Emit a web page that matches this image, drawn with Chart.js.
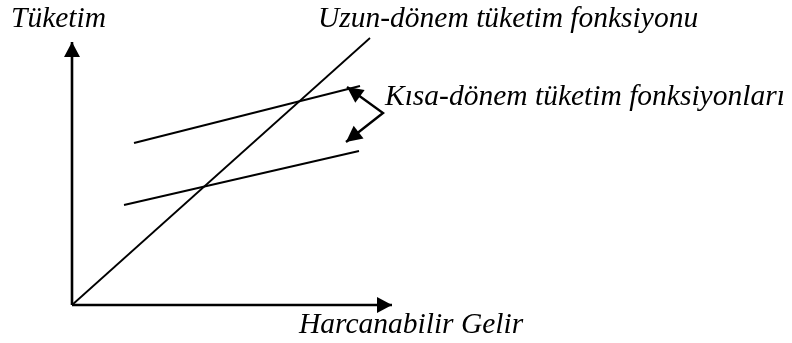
<!DOCTYPE html>
<html>
<head>
<meta charset="utf-8">
<script src="https://cdn.jsdelivr.net/npm/chart.js@4"></script>
<style>
    html, body { margin: 0; padding: 0; background: #fff; }
    #wrap { width: 792px; height: 343px; }
</style>
</head>
<body>
<div id="wrap"><canvas id="consumptionChart" width="792" height="343"></canvas></div>
<script>
// Axes (origin at 0,0)
const xAxisLine = [{ x: 0, y: 0 }, { x: 320, y: 0 }];
const yAxisLine = [{ x: 0, y: 0 }, { x: 0, y: 263 }];

// Consumption functions
const longRun = [{ x: 0, y: 0 }, { x: 298, y: 267 }];
const shortRunHigh = [{ x: 62, y: 162 }, { x: 288, y: 219 }];
const shortRunLow = [{ x: 52, y: 100 }, { x: 287, y: 154 }];

// Bracket pointing at the two short-run lines
const bracket = [{ x: 275, y: 218 }, { x: 311, y: 192 }, { x: 274, y: 163 }];

// Texts
const yTitle = 'Tüketim';
const xTitle = 'Harcanabilir Gelir';
const longRunLabel = 'Uzun-dönem tüketim fonksiyonu';
const shortRunLabel = 'Kısa-dönem tüketim fonksiyonları';

const labelFont = 'italic 29.5px "Liberation Serif", "Times New Roman", serif';

// draws filled arrow heads on line ends
const arrowPlugin = {
    id: 'arrows',
    afterDatasetsDraw(chart) {
        const ctx = chart.ctx;
        chart.data.datasets.forEach((ds, i) => {
            const pts = chart.getDatasetMeta(i).data;
            if (ds.arrowEnd) drawHead(ctx, pts[pts.length - 2], pts[pts.length - 1], ds.headLen, ds.headHalf);
            if (ds.arrowStart) drawHead(ctx, pts[1], pts[0], ds.headLen, ds.headHalf);
        });
    }
};

function drawHead(ctx, from, to, len, half) {
    const dx = to.x - from.x;
    const dy = to.y - from.y;
    const d = Math.sqrt(dx * dx + dy * dy);
    const ux = dx / d, uy = dy / d;
    ctx.save();
    ctx.fillStyle = '#000';
    ctx.beginPath();
    ctx.moveTo(to.x, to.y);
    ctx.lineTo(to.x - ux * len - uy * half, to.y - uy * len + ux * half);
    ctx.lineTo(to.x - ux * len + uy * half, to.y - uy * len - ux * half);
    ctx.closePath();
    ctx.fill();
    ctx.restore();
}

// draws the italic labels at data positions
const textPlugin = {
    id: 'texts',
    afterDraw(chart, args, opts) {
        const ctx = chart.ctx;
        const xs = chart.scales.x, ys = chart.scales.y;
        ctx.save();
        ctx.font = labelFont;
        ctx.fillStyle = '#000';
        ctx.textAlign = 'left';
        ctx.textBaseline = 'alphabetic';
        opts.items.forEach(item => {
            ctx.fillText(item.text, xs.getPixelForValue(item.x), ys.getPixelForValue(item.y));
        });
        ctx.restore();
    }
};

function lineSet(data, width, extra) {
    return Object.assign({
        data: data,
        showLine: true,
        borderColor: '#000',
        borderWidth: width,
        pointRadius: 0,
        fill: false,
        tension: 0
    }, extra || {});
}

new Chart(document.getElementById('consumptionChart').getContext('2d'), {
    type: 'scatter',
    data: {
        datasets: [
            lineSet(xAxisLine, 2.6, { arrowEnd: true, headLen: 15, headHalf: 8 }),
            lineSet(yAxisLine, 2.6, { arrowEnd: true, headLen: 15, headHalf: 8 }),
            lineSet(longRun, 1.8),
            lineSet(shortRunHigh, 1.9),
            lineSet(shortRunLow, 1.9),
            lineSet(bracket, 2.4, { arrowEnd: true, arrowStart: true, headLen: 16, headHalf: 8 })
        ]
    },
    plugins: [arrowPlugin, textPlugin],
    options: {
        responsive: false,
        animation: false,
        layout: { padding: 0 },
        scales: {
            x: { type: 'linear', min: -72, max: 720, display: false },
            y: { type: 'linear', min: -38, max: 305, display: false }
        },
        plugins: {
            legend: { display: false },
            tooltip: { enabled: false },
            texts: {
                items: [
                    { text: yTitle, x: -61, y: 278 },
                    { text: longRunLabel, x: 246, y: 278 },
                    { text: shortRunLabel, x: 313, y: 200 },
                    { text: xTitle, x: 227, y: -28 }
                ]
            }
        }
    }
});
</script>
</body>
</html>
